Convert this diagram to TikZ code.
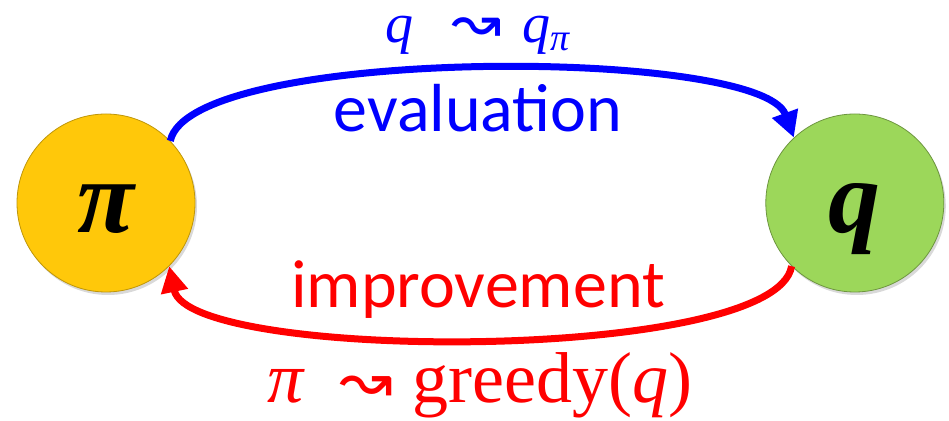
\documentclass[tikz,border=0pt]{standalone}
\usepackage{fontspec}
\setsansfont{Carlito}
\newfontfamily\circfont{Liberation Serif}
\newfontfamily\arrowfont{DejaVu Sans}
\usepackage{tikz}
\usetikzlibrary{
  arrows.meta,
  positioning,
  shadows
}
\definecolor{rlPolicy}{HTML}{FFC80A}
\definecolor{rlValue}{HTML}{9CD75A}
\definecolor{rlEval}{HTML}{0000FF}
\definecolor{rlImp}{HTML}{FF0000}
\newcommand{\squig}[1]{{\fontsize{#1}{#1}\selectfont\arrowfont ↝}}
\tikzset{
  rlstate/.style={
    circle, inner sep=0pt, minimum size=89pt, text height=30pt, text depth=0pt,
    font=\fontsize{52}{52}\selectfont\circfont\bfseries\itshape,
    drop shadow={opacity=0.3, shadow xshift=1pt, shadow yshift=-1.5pt}
  },
  policy/.style={rlstate, fill=rlPolicy, draw=rlPolicy!75!black, thin},
  value/.style={rlstate, fill=rlValue, draw=rlValue!70!black, thin},
  loopline/.style={line width=3.5pt, -{Triangle[length=13pt, width=13pt]}},
  steptxt/.style={font=\fontsize{34}{40}\selectfont\sffamily, anchor=base, inner sep=0pt},
  smallmath/.style={font=\fontsize{28}{30}\selectfont\circfont, anchor=base, inner sep=0pt},
  bigmath/.style={font=\fontsize{36}{38}\selectfont\circfont, anchor=base, inner sep=0pt}
}

\begin{document}
\begin{tikzpicture}[x=0.5pt, y=-0.5pt]
  \useasboundingbox (0,0) rectangle (949,421);
  \node[policy] (pi) at (106,203) {π};
  \node[value, right=285pt of pi] (q) {q};
  % evaluation arc over the top, improvement arc underneath
  \draw[loopline, rlEval] (pi.44) .. controls +(20,-95) and +(-33,-91) .. (q.133);
  \draw[loopline, rlImp] (q.225) .. controls +(-16,97) and +(20,96) .. (pi.-45);
  \node[smallmath, text=rlEval] (evalmath) at (478,43)
    {\textit{q}\hspace{19pt}\squig{30}\hspace{10pt}\textit{q}\raisebox{-4pt}{\fontsize{19}{19}\selectfont\textit{π}}};
  \node[steptxt, text=rlEval] (evaltxt) at (478,132) {evaluation};
  \node[steptxt, text=rlImp] (imptxt) at (478,308) {improvement};
  \node[bigmath, text=rlImp] (impmath) at (480,403)
    {\textit{π}\hspace{17pt}\squig{32}\hspace{10pt}greedy(\textit{q})};
\end{tikzpicture}
\end{document}
